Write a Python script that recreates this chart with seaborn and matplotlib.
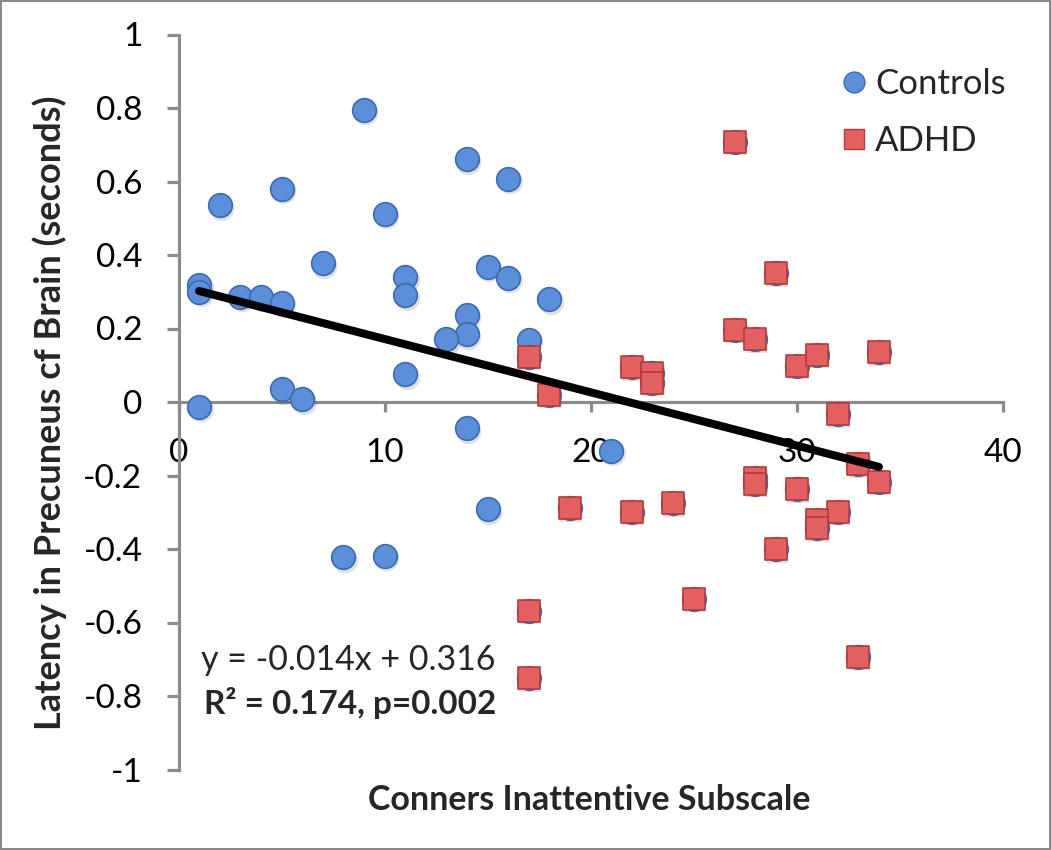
import numpy as np
import pandas as pd
import matplotlib
matplotlib.use("Agg")
import matplotlib.pyplot as plt
import seaborn as sns
from matplotlib.lines import Line2D

# ---- data ----
controls_x = [9, 2, 5, 14, 16, 10, 7, 1, 1, 3, 4, 5, 11, 11, 15, 16, 18, 14, 14, 13,
              17, 11, 5, 6, 1, 14, 15, 8, 10, 21]
controls_y = [0.795, 0.535, 0.58, 0.66, 0.607, 0.512, 0.377, 0.318, 0.300, 0.287, 0.287,
              0.270, 0.340, 0.291, 0.368, 0.338, 0.279, 0.236, 0.184, 0.171,
              0.170, 0.075, 0.035, 0.007, -0.013, -0.072, -0.292, -0.423, -0.419, -0.133]

adhd_x = [27, 29, 27, 28, 30, 31, 34, 17, 18, 22, 23, 23, 32, 33, 34, 28, 28, 30, 32,
          31, 31, 19, 22, 24, 29, 25, 33, 17, 17]
adhd_y = [0.708, 0.350, 0.196, 0.171, 0.099, 0.129, 0.135, 0.123, 0.020, 0.094, 0.078,
          0.053, -0.034, -0.170, -0.217, -0.207, -0.222, -0.238, -0.298,
          -0.321, -0.344, -0.289, -0.298, -0.276, -0.401, -0.536, -0.693, -0.568, -0.752]

fit_slope = -0.0145
fit_intercept = 0.3165
equation_text = "y = -0.014x + 0.316"
stats_text = "R² = 0.174, p=0.002"

x_ticks = [0, 10, 20, 30, 40]
y_ticks = [-1, -0.8, -0.6, -0.4, -0.2, 0, 0.2, 0.4, 0.6, 0.8, 1]
y_ticklabels = ["-1", "-0.8", "-0.6", "-0.4", "-0.2", "0", "0.2", "0.4", "0.6", "0.8", "1"]

xlabel = "Conners Inattentive Subscale"
ylabel = "Latency in Precuneus cf Brain (seconds)"

# ---- style ----
sns.set_style("white")
plt.rcParams['font.family'] = ['Lato', 'DejaVu Sans']

W, H = 1051, 850
fig = plt.figure(figsize=(W / 100, H / 100), dpi=100)
fig.patch.set_facecolor("white")
fig.patch.set_edgecolor("#8a8a8a")
fig.patch.set_linewidth(1.5)

ax = fig.add_axes([178.5 / W, 1 - 769.5 / H, (1002.5 - 178.5) / W, (769.5 - 34.5) / H])
ax.set_facecolor("none")

ctrl = pd.DataFrame({"x": controls_x, "y": controls_y})
adhd = pd.DataFrame({"x": adhd_x, "y": adhd_y})

blue_face = "#5b8fda"
blue_edge = "#3b6bb0"
red_face = "#e35f60"
red_edge = "#b03c3e"

# soft shadows
for df, mk, s in [(ctrl, "o", 290), (adhd, "s", 235)]:
    tr = matplotlib.transforms.offset_copy(ax.transData, fig=fig, x=1.5, y=-2.5, units="dots")
    ax.scatter(df["x"], df["y"], marker=mk, s=s * 1.15, color="#000000", alpha=0.12,
               linewidths=0, transform=tr, zorder=2)

sns.scatterplot(data=ctrl, x="x", y="y", marker="o", s=290, color=blue_face,
                edgecolor=blue_edge, linewidth=1.2, ax=ax, zorder=3, legend=False)
# ADHD points also appear as circles beneath the squares
sns.scatterplot(data=adhd, x="x", y="y", marker="o", s=290, color=blue_face,
                edgecolor=blue_edge, linewidth=1.2, ax=ax, zorder=4, legend=False)
sns.scatterplot(data=adhd, x="x", y="y", marker="s", s=230, color=red_face,
                edgecolor=red_edge, linewidth=1.2, ax=ax, zorder=5, legend=False)

all_x = np.array(controls_x + adhd_x)
xs = np.array([all_x.min(), all_x.max()])
ax.plot(xs, fit_slope * xs + fit_intercept, color="black", lw=5.8,
        solid_capstyle="round", zorder=6)

ax.set_xlim(0, 40)
ax.set_ylim(-1, 1)
ax.set_xticks(x_ticks)
ax.set_yticks(y_ticks)
ax.set_yticklabels(y_ticklabels)

spine_c = "#8c8c8c"
for side in ["top", "right"]:
    ax.spines[side].set_visible(False)
ax.spines["left"].set_color(spine_c)
ax.spines["left"].set_linewidth(2.3)
ax.spines["bottom"].set_color(spine_c)
ax.spines["bottom"].set_linewidth(2.3)
ax.spines["bottom"].set_position(("data", 0))
ax.spines["bottom"].set_zorder(1)
ax.spines["left"].set_zorder(1)

ax.tick_params(axis="y", direction="out", length=9, width=2.3, color=spine_c,
               pad=17, labelsize=24, left=True)
ax.tick_params(axis="x", direction="out", length=7, width=2.3, color=spine_c,
               pad=19, labelsize=24, bottom=True)
for lab in ax.get_xticklabels() + ax.get_yticklabels():
    lab.set_color("black")

ax.set_xlabel("")
ax.set_ylabel("")
fig.text(589 / W, 1 - 800 / H, xlabel, ha="center", va="center",
         fontsize=24.5, fontweight="bold")
fig.text(50 / W, 1 - 413 / H, ylabel, ha="center", va="center", rotation=90,
         fontsize=26, fontweight="bold")

fig.text(348 / W, 1 - 660 / H, equation_text, ha="center", va="center", fontsize=24.5)
fig.text(350 / W, 1 - 703 / H, stats_text, ha="center", va="center", fontsize=24,
         fontweight="bold")

handles = [
    Line2D([], [], marker="o", ls="none", markersize=15, markerfacecolor=blue_face,
           markeredgecolor=blue_edge, markeredgewidth=1),
    Line2D([], [], marker="s", ls="none", markersize=15, markerfacecolor=red_face,
           markeredgecolor=red_edge, markeredgewidth=1),
]
leg = ax.legend(handles, ["Controls", "ADHD"], loc="upper left",
                bbox_to_anchor=(823 / W, 1 - 54 / H), bbox_transform=fig.transFigure,
                frameon=False, fontsize=25, handletextpad=0.1, labelspacing=0.72,
                handlelength=1.0, borderaxespad=0)

fig.savefig("out.png", dpi=100, facecolor=fig.get_facecolor(),
            edgecolor=fig.get_edgecolor())
